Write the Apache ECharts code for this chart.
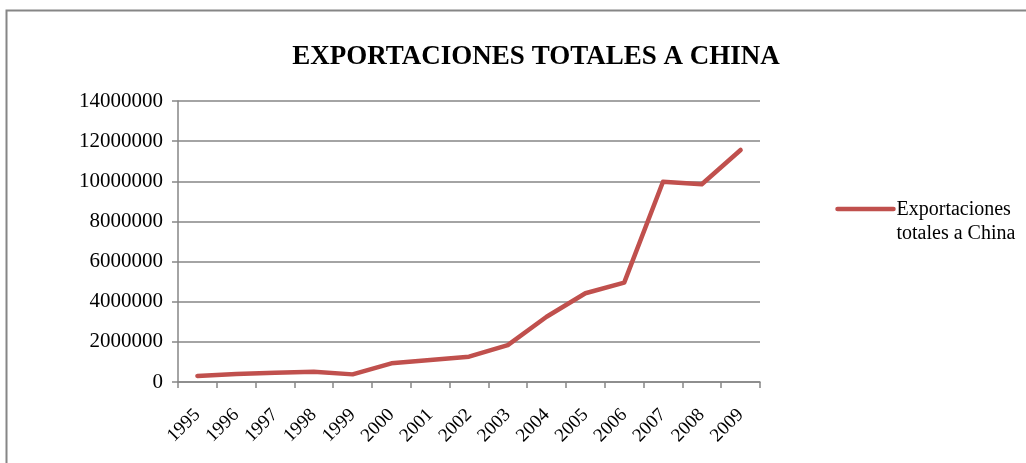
<!DOCTYPE html>
<html>
<head>
<meta charset="utf-8">
<script src="https://cdn.jsdelivr.net/npm/echarts@6/dist/echarts.min.js"></script>
<style>
html,body{margin:0;padding:0;background:#fff;}
#chart{width:1026px;height:463px;}
</style>
</head>
<body>
<div id="chart"></div>
<script>
const titleText = "EXPORTACIONES TOTALES A CHINA";
const seriesName = "Exportaciones\ntotales a China";
const years = ["1995","1996","1997","1998","1999","2000","2001","2002","2003","2004","2005","2006","2007","2008","2009"];
const exportsValues = [300000,400000,460000,510000,380000,930000,1100000,1260000,1840000,3250000,4420000,4950000,9980000,9850000,11560000];
const yMin = 0, yMax = 14000000, yStep = 2000000;

const font = "'Liberation Serif','Times New Roman',serif";
const chart = echarts.init(document.getElementById('chart'));
chart.setOption({
  animation: false,
  backgroundColor: '#fff',
  graphic: [{
    type: 'rect',
    shape: {x: 6.5, y: 10.5, width: 1040, height: 480},
    style: {fill: 'none', stroke: '#868686', lineWidth: 2}
  }, {
    type: 'group', left: 835, top: 198,
    children: [
      {type: 'line', shape: {x1: 0, y1: 11, x2: 56, y2: 11}, style: {stroke: '#c0504d', lineWidth: 4.5, lineCap: 'round'}},
      {type: 'text', left: 59, top: 0, style: {text: seriesName, font: "20px " + font, fill: '#000', lineHeight: 24}}
    ]
  }],
  title: {
    text: titleText, left: 531, top: 39, textAlign: 'center',
    textStyle: {fontFamily: font, fontSize: 27, fontWeight: 'bold', color: '#000'}
  },
  grid: {left: 178, right: 266, top: 101, bottom: 81, containLabel: false},
  xAxis: {
    type: 'category', data: years, boundaryGap: true,
    axisLine: {lineStyle: {color: '#868686', width: 1.5}},
    axisTick: {show: true, length: 6, lineStyle: {color: '#868686', width: 1.5}},
    axisLabel: {rotate: 45, margin: 30, fontFamily: font, fontSize: 19, color: '#000', interval: 0}
  },
  yAxis: {
    type: 'value', min: yMin, max: yMax, interval: yStep,
    axisLine: {show: true, lineStyle: {color: '#868686', width: 1.5}},
    axisTick: {show: true, length: 6, lineStyle: {color: '#868686', width: 1.5}},
    splitLine: {lineStyle: {color: '#868686', width: 1.5}},
    axisLabel: {margin: 15, fontFamily: font, fontSize: 21, color: '#000', formatter: v => String(v)}
  },
  series: [{
    name: seriesName, type: 'line', data: exportsValues,
    showSymbol: false, symbol: 'none',
    lineStyle: {color: '#c0504d', width: 4.5, cap: 'round', join: 'round'}
  }]
});
</script>
</body>
</html>
